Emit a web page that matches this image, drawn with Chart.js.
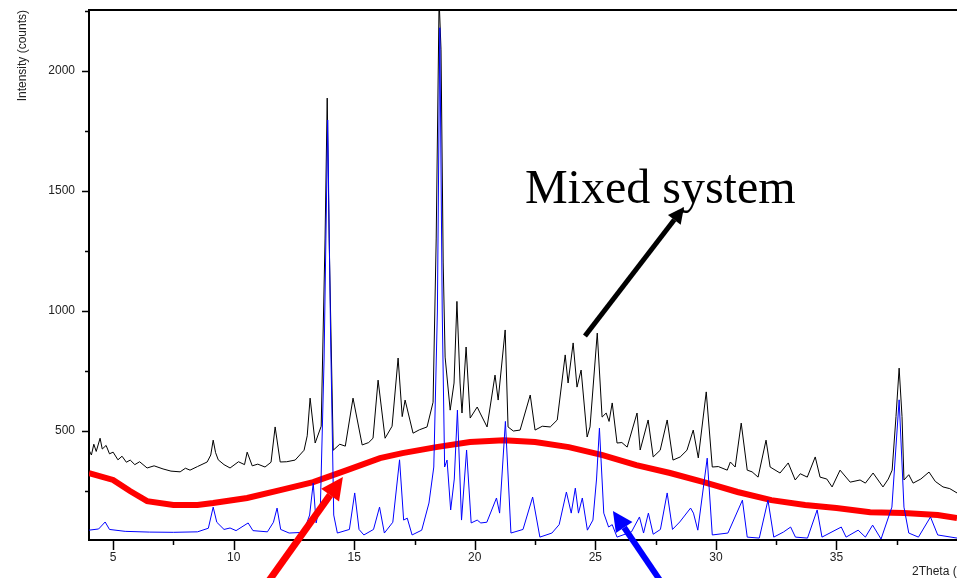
<!DOCTYPE html>
<html>
<head>
<meta charset="utf-8">
<script src="https://cdn.jsdelivr.net/npm/chart.js@4.4.1/dist/chart.umd.min.js"></script>
<style>
  html, body { margin: 0; padding: 0; background: #fff; overflow: hidden; }
  #wrap { width: 957px; height: 578px; }
</style>
</head>
<body>
<div id="wrap"><canvas id="xrd" width="957" height="578"></canvas></div>
<script>
// axis ticks
const xTicks = [5, 10, 15, 20, 25, 30, 35];
const xMinor = [7.5, 12.5, 17.5, 22.5, 27.5, 32.5, 37.5];
const yTicks = [500, 1000, 1500, 2000];
const yMinor = [250, 750, 1250, 1750, 2250];

// mixed system (black trace)
const mixX = [4.0, 4.1, 4.2, 4.3, 4.46, 4.55, 4.71, 4.85, 5.0, 5.2, 5.37, 5.55, 5.71, 5.9, 6.1, 6.41, 6.7, 7.07, 7.4,
  7.78, 8.0, 8.19, 8.5, 8.9, 9.05, 9.15, 9.25, 9.36, 9.6, 9.85, 10.2, 10.45,
  10.56, 10.77, 11.0, 11.3, 11.55, 11.72, 11.93, 12.2, 12.55, 12.92, 13.05, 13.17, 13.38, 13.63, 13.79, 13.88, 13.96, 14.13,
  14.4, 14.63, 14.95, 15.33, 15.6, 15.78, 15.99, 16.28, 16.57, 16.82, 16.99, 17.11, 17.44, 17.7, 18.02, 18.27, 18.4,
  18.52, 18.6, 18.69, 18.77, 18.98, 19.14, 19.26, 19.39, 19.47, 19.64, 19.81, 20.1, 20.22, 20.51,
  20.84, 20.97, 21.26, 21.38, 21.6, 21.88, 22.3, 22.5, 22.8, 23.13, 23.42, 23.75, 23.87, 24.08, 24.24, 24.41,
  24.66, 24.78, 25.08, 25.28, 25.45, 25.57, 25.7, 25.9, 26.1, 26.32, 26.73, 26.86, 27.19, 27.4, 27.69,
  27.98, 28.22, 28.52, 28.8, 29.06, 29.27, 29.6, 29.85, 30.1, 30.47, 30.6, 30.8, 31.05, 31.3, 31.5, 31.75, 32.08,
  32.25, 32.66, 33.0, 33.29, 33.5, 33.79, 34.12, 34.32, 34.6, 34.82, 35.15, 35.57, 35.98, 36.2, 36.52, 36.93, 37.15, 37.31,
  37.47, 37.6, 37.72, 37.8, 38.0, 38.18, 38.5, 38.84, 39.1, 39.42, 39.7, 40.0];
const mixY = [421, 400, 445, 415, 470, 425, 440, 405, 412, 380, 395, 370, 379, 360, 372, 346, 355, 342, 333,
  330, 345, 337, 352, 371, 400, 462, 410, 380, 360, 346, 372, 360,
  412, 355, 362, 350, 370, 517, 371, 372, 379, 420, 480, 637, 450, 520, 1300, 1887, 1300, 420,
  445, 437, 637, 442, 452, 470, 712, 470, 520, 804, 560, 629, 491, 505, 517, 620, 1300,
  2300, 2088, 1200, 808, 587, 700, 1040, 700, 575, 850, 554, 600, 575, 517,
  733, 629, 921, 517, 500, 504, 650, 504, 520, 517, 546, 817, 700, 867, 683, 754,
  475, 517, 908, 558, 575, 540, 617, 450, 452, 433, 575, 421, 546, 392, 420,
  546, 379, 392, 420, 504, 388, 663, 350, 352, 337, 371, 350, 533, 337, 330, 308, 462,
  350, 325, 367, 296, 322, 308, 392, 308, 300, 267, 337, 287, 296, 283, 325, 267, 300, 337,
  560, 762, 560, 296, 318, 283, 300, 329, 290, 267, 260, 242];

// amorphous (red trace)
const amoX = [4.0, 5.0, 5.7, 6.41, 7.5, 8.5, 9.15, 10.56, 11.93, 13.3, 14.7, 16.07, 17.0, 18.4, 19.8, 21.2,
  22.5, 23.9, 25.3, 26.7, 28.1, 29.5, 30.9, 32.3, 33.7, 35.0, 36.4, 37.8, 39.2, 40.0];
const amoY = [325, 296, 250, 208, 192, 192, 200, 221, 254, 287, 337, 387, 408, 433, 454, 462,
  454, 433, 400, 358, 325, 287, 246, 212, 192, 179, 162, 158, 150, 137];

// crystalline drug (blue trace)
const drugX = [4.0, 4.4, 4.67, 4.85, 5.5, 6.5, 7.5, 8.5, 8.95, 9.15, 9.3, 9.6, 9.85, 10.1, 10.6, 10.8,
  11.4, 11.65, 11.8, 11.95, 12.3, 12.9, 13.15, 13.3, 13.42, 13.6, 13.75, 13.9, 14.02, 14.15, 14.3,
  14.8, 15.02, 15.2, 15.4, 15.8, 16.05, 16.25, 16.6, 16.88, 17.05, 17.2, 17.4, 17.8, 18.1, 18.3,
  18.45, 18.55, 18.65, 18.75, 18.85, 19.0, 19.15, 19.28, 19.45, 19.66, 19.85, 20.1, 20.25, 20.5,
  20.9, 21.03, 21.27, 21.5, 22.0, 22.4, 22.7, 23.2, 23.5, 23.8, 24.0, 24.17, 24.3, 24.46, 24.67,
  24.9, 25.05, 25.17, 25.35, 25.55, 25.7, 25.9, 26.5, 26.83, 27.0, 27.2, 27.4, 27.7, 27.98, 28.2,
  28.5, 28.95, 29.07, 29.25, 29.64, 29.85, 30.5, 31.1, 31.3, 31.8, 32.16, 32.4, 32.8, 33.1, 33.3,
  33.8, 34.2, 34.4, 35.2, 35.4, 35.9, 36.2, 36.5, 36.85, 37.3, 37.6, 37.8, 38.0, 38.4, 38.9, 39.2, 40.0];
const drugY = [87, 92, 121, 90, 82, 79, 78, 80, 95, 183, 120, 90, 96, 85, 117, 85,
  80, 120, 179, 90, 75, 78, 150, 283, 117, 200, 800, 1796, 900, 150, 75,
  90, 242, 90, 67, 90, 183, 75, 120, 380, 129, 137, 67, 87, 200, 350,
  1000, 2180, 1000, 350, 379, 171, 300, 587, 129, 421, 117, 129, 117, 120,
  221, 158, 540, 75, 90, 225, 58, 75, 110, 246, 158, 262, 158, 221, 87,
  129, 300, 512, 158, 100, 110, 58, 80, 142, 75, 158, 70, 90, 242, 90,
  121, 179, 158, 87, 387, 67, 75, 212, 58, 54, 212, 58, 79, 100, 58,
  54, 171, 58, 100, 58, 87, 58, 108, 50, 183, 630, 183, 75, 58, 142, 67, 54];

// annotations, in data units
const labelText = "Mixed system";
const labelAt = [22.08, 1450];
const arrows = [
  { from: [24.57, 896], to: [28.68, 1433], color: "#000", width: 5, head: 16 },
  { from: [11.34, -141], to: [14.53, 308], color: "#ff0000", width: 7, head: 22 },
  { from: [27.81, -141], to: [25.73, 167], color: "#0000ff", width: 6, head: 20 }
];

const toPts = (xs, ys) => xs.map((x, i) => ({ x, y: ys[i] }));

function drawArrow(ctx, x1, y1, x2, y2, color, w, head) {
  const a = Math.atan2(y2 - y1, x2 - x1);
  const bx = x2 - Math.cos(a) * head, by = y2 - Math.sin(a) * head;
  ctx.save();
  ctx.strokeStyle = color;
  ctx.fillStyle = color;
  ctx.lineWidth = w;
  ctx.beginPath();
  ctx.moveTo(x1, y1);
  ctx.lineTo(bx, by);
  ctx.stroke();
  const hw = head * 0.5;
  ctx.beginPath();
  ctx.moveTo(x2, y2);
  ctx.lineTo(bx + Math.sin(a) * hw, by - Math.cos(a) * hw);
  ctx.lineTo(bx - Math.sin(a) * hw, by + Math.cos(a) * hw);
  ctx.closePath();
  ctx.fill();
  ctx.restore();
}

const extras = {
  id: "extras",
  afterDraw(chart) {
    const { ctx, chartArea: ca, scales: { x, y } } = chart;
    ctx.save();
    // top frame line
    ctx.strokeStyle = "#000";
    ctx.lineWidth = 2;
    ctx.beginPath();
    ctx.moveTo(ca.left, ca.top);
    ctx.lineTo(ca.right, ca.top);
    ctx.stroke();
    // tick marks
    ctx.lineWidth = 1.5;
    ctx.beginPath();
    xTicks.forEach(v => { const p = Math.round(x.getPixelForValue(v)) + 0.5; ctx.moveTo(p, ca.bottom); ctx.lineTo(p, ca.bottom + 10); });
    xMinor.forEach(v => { const p = Math.round(x.getPixelForValue(v)) + 0.5; ctx.moveTo(p, ca.bottom); ctx.lineTo(p, ca.bottom + 5); });
    yTicks.forEach(v => { const p = Math.round(y.getPixelForValue(v)) + 0.5; ctx.moveTo(ca.left, p); ctx.lineTo(ca.left - 7, p); });
    yMinor.forEach(v => { const p = Math.round(y.getPixelForValue(v)) + 0.5; ctx.moveTo(ca.left, p); ctx.lineTo(ca.left - 4, p); });
    ctx.stroke();
    // axis titles
    ctx.fillStyle = "#222";
    ctx.font = "12px 'Liberation Sans', Arial, sans-serif";
    ctx.textAlign = "left";
    ctx.textBaseline = "alphabetic";
    ctx.fillText("2Theta (°)", 912, 575);
    ctx.save();
    ctx.translate(26, ca.top);
    ctx.rotate(-Math.PI / 2);
    ctx.textAlign = "right";
    ctx.fillText("Intensity (counts)", 0, 0);
    ctx.restore();
    // annotation
    ctx.fillStyle = "#000";
    ctx.font = "48px 'Liberation Serif', 'Times New Roman', serif";
    ctx.textAlign = "left";
    ctx.fillText(labelText, x.getPixelForValue(labelAt[0]), y.getPixelForValue(labelAt[1]));
    arrows.forEach(a => drawArrow(ctx,
      x.getPixelForValue(a.from[0]), y.getPixelForValue(a.from[1]),
      x.getPixelForValue(a.to[0]), y.getPixelForValue(a.to[1]),
      a.color, a.width, a.head));
    ctx.restore();
  }
};

const tickFont = { family: "'Liberation Sans', Arial, sans-serif", size: 12 };

new Chart(document.getElementById("xrd"), {
  type: "line",
  data: {
    datasets: [
      { label: "Mixed system", data: toPts(mixX, mixY), borderColor: "#000", borderWidth: 1, order: 3 },
      { label: "Amorphous", data: toPts(amoX, amoY), borderColor: "#ff0000", borderWidth: 6, order: 2 },
      { label: "Drug", data: toPts(drugX, drugY), borderColor: "#0000ff", borderWidth: 1, order: 1 }
    ]
  },
  options: {
    responsive: false,
    animation: false,
    events: [],
    elements: { point: { radius: 0 }, line: { tension: 0 } },
    layout: { padding: { top: 10, right: 0, left: 0, bottom: 0 } },
    plugins: { legend: { display: false }, tooltip: { enabled: false } },
    scales: {
      x: {
        type: "linear", min: 4, max: 40,
        grid: { display: false, drawTicks: false },
        border: { display: true, color: "#000", width: 2 },
        ticks: { padding: 10, color: "#222", font: tickFont, callback: v => String(v) },
        afterBuildTicks: s => { s.ticks = xTicks.map(v => ({ value: v })); },
        afterFit: s => { s.height = 38; s.paddingLeft = 0; s.paddingRight = 0; }
      },
      y: {
        type: "linear", min: 46, max: 2254,
        grid: { display: false, drawTicks: false },
        border: { display: true, color: "#000", width: 2 },
        ticks: { padding: 14, color: "#222", font: tickFont, callback: v => String(v) },
        afterBuildTicks: s => { s.ticks = yTicks.map(v => ({ value: v })); },
        afterFit: s => { s.width = 89; s.paddingTop = 0; s.paddingBottom = 0; }
      }
    }
  },
  plugins: [extras]
});
</script>
</body>
</html>
